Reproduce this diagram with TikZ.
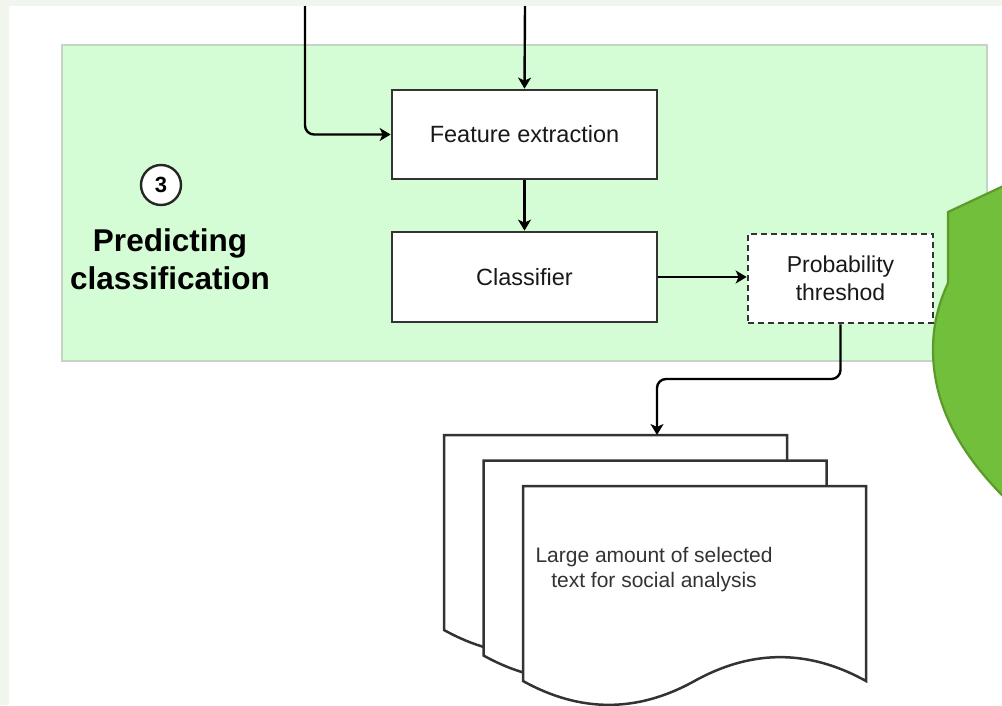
\documentclass[tikz,border=0pt]{standalone}
\usepackage{fontspec}
\setmainfont{Liberation Sans}
\usetikzlibrary{arrows.meta}

\definecolor{pagetint}{HTML}{F0F6EE}
\definecolor{panelfill}{HTML}{D5FDD5}
\definecolor{panelline}{HTML}{C5D5C5}
\definecolor{inkgrey}{HTML}{333333}
\definecolor{leaffill}{HTML}{71BF3A}
\definecolor{leafline}{HTML}{5A9B2B}

\tikzset{
  procbox/.style={draw=inkgrey, line width=2.7pt, fill=white, inner sep=0pt,
    minimum width=265pt, minimum height=89pt, text=black!90,
    font=\fontsize{23.5}{28}\selectfont},
  probbox/.style={draw=inkgrey, line width=2.7pt, dash pattern=on 6pt off 4pt,
    fill=white, inner sep=0pt, minimum width=185pt, minimum height=89pt,
    align=center, text=black!90, font=\fontsize{23}{28}\selectfont},
  flow/.style={line width=2.4pt, black, -{Stealth[length=11pt,width=13pt,inset=3pt]}},
  docsheet/.pic={
    \draw[inkgrey, line width=2.5pt, fill=white]
      (0,0) -- (343,0) -- (343,195)
      .. controls (285.83,163.2) and (228.67,163.2) .. (171.5,195)
      .. controls (114.33,226.8) and (57.17,226.8) .. (0,195) -- cycle;
  }
}

\begin{document}
\begin{tikzpicture}[x=1pt,y=-1pt]
\useasboundingbox (0,0) rectangle (1002,705);
\clip (0,0) rectangle (1002,705);

% page background
\fill[pagetint] (0,0) rectangle (1002,705);
\fill[white] (9,6) rectangle (1002,705);

% stage panel
\draw[panelline, line width=1.2pt, fill=panelfill] (62,45) rectangle (987,361);

% green shape at the right edge
\draw[leafline, line width=2.2pt, fill=leaffill]
  (1012,182) -- (948,212) -- (948,283)
  .. controls (938,305) and (933,325) .. (933,350)
  .. controls (933,410) and (965,460) .. (1012,505) -- cycle;

% stage label
\node[circle, draw=black!85, line width=2.4pt, fill=white, minimum size=40pt,
  inner sep=0pt, font=\bfseries\fontsize{22}{22}\selectfont] (badge) at (161,185) {3};
\node[align=center, font=\bfseries\fontsize{31.5}{38}\selectfont] (title)
  at (170,259) {Predicting\\classification};

% process boxes
\node[procbox] (feat) at (524.5,134.5) {Feature extraction};
\node[procbox, minimum height=90pt] (cls) at (524.5,277) {Classifier};
\node[probbox] (prob) at (840.5,278.5) {Probability\\threshod};

% stacked output documents
\pic at (444,435) {docsheet};
\pic at (483.5,460.5) {docsheet};
\pic at (523,486) {docsheet};
\node[align=center, text=inkgrey, font=\fontsize{21}{25}\selectfont] (doctext)
  at (654,570) {Large amount of selected\\text for social analysis};

% connector end points
\coordinate (inL) at (305,6);
\coordinate (inT) at (525,6);
\coordinate (turn) at (0,379);
\coordinate (docin) at (657,435);

% connectors
\draw[flow] (inT) -- (feat.north);
\draw[flow, rounded corners=9pt] (inL) |- (feat.west);
\draw[flow] (feat.south) -- (cls.north);
\draw[flow] (cls.east) -- (prob.west |- cls.east);
\draw[flow, rounded corners=9pt] (prob.south) |- (docin |- turn) -- (docin);
\end{tikzpicture}
\end{document}
